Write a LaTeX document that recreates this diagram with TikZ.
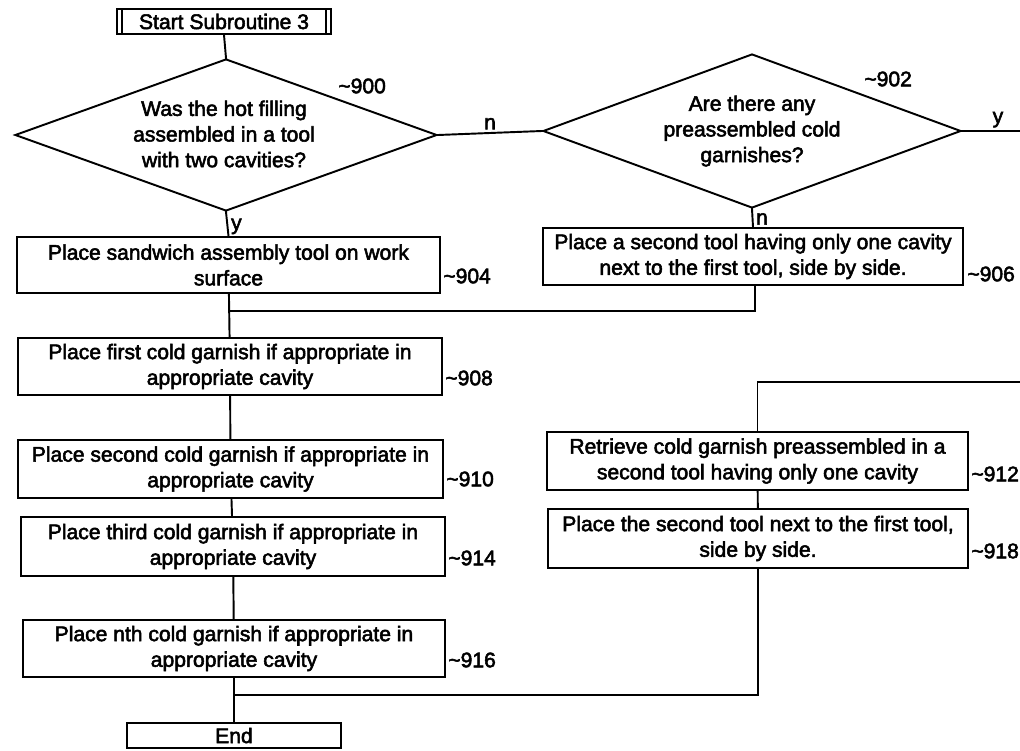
\documentclass[tikz,border=0pt]{standalone}
\usepackage{fontspec}
\setmainfont{Liberation Sans}[FakeBold=2.5]
\usetikzlibrary{shapes.geometric}

\newcommand\lbl{\fontsize{12}{14.6}\selectfont}

\tikzset{
  flow/.style={line width=1.1pt, line cap=rect},
  stepbox/.style 2 args={draw, line width=1.1pt, rectangle, inner sep=0pt,
    minimum width=#1*0.02cm, minimum height=#2*0.02cm, align=center, font=\lbl},
  decision/.style 2 args={draw, line width=1.1pt, diamond, inner sep=0pt,
    minimum width=#1*0.02cm, minimum height=#2*0.02cm},
  qtext/.style={align=center, font=\lbl, inner sep=0pt},
  ref/.style={anchor=west, font=\lbl, inner sep=0pt},
  branch/.style={font=\lbl, inner sep=1.5pt}
}

\begin{document}
\begin{tikzpicture}[x=0.02cm, y=-0.02cm]
\useasboundingbox (0,0) rectangle (1020,750);

% start terminal with double side bars
\node[stepbox={214}{25}] (s) at (224,21.5) {Start Subroutine 3};
\draw[line width=1.1pt] ([xshift=0.12cm]s.north west) -- ([xshift=0.12cm]s.south west);
\draw[line width=1.1pt] ([xshift=-0.12cm]s.north east) -- ([xshift=-0.12cm]s.south east);

% decisions
\node[decision={422}{152}] (d900) at (226,135) {};
\node[qtext] (q900) at (224,134) {Was the hot filling\\assembled in a tool\\with two cavities?};
\node[ref] (r900) at (338,86) {\textasciitilde900};

\node[decision={418}{154}] (d902) at (752,131) {};
\node[qtext] (q902) at (752,131) {Are there any\\preassembled cold\\garnishes?};
\node[ref] (r902) at (864,79) {\textasciitilde902};

% left column
\node[stepbox={423}{56}] (b904) at (228.5,265) {Place sandwich assembly tool on work\\surface};
\node[ref] (r904) at (443,276) {\textasciitilde904};
\node[stepbox={424}{57}] (b908) at (230,366.5) {Place first cold garnish if appropriate in\\appropriate cavity};
\node[ref] (r908) at (445,378) {\textasciitilde908};
\node[stepbox={425}{58}] (b910) at (230.5,469) {Place second cold garnish if appropriate in\\appropriate cavity};
\node[ref] (r910) at (446,479) {\textasciitilde910};
\node[stepbox={424}{59}] (b914) at (233,546.5) {Place third cold garnish if appropriate in\\appropriate cavity};
\node[ref] (r914) at (448,558) {\textasciitilde914};
\node[stepbox={422}{57}] (b916) at (234,648.5) {Place nth cold garnish if appropriate in\\appropriate cavity};
\node[ref] (r916) at (448,660) {\textasciitilde916};
\node[stepbox={214}{25}] (e) at (234,735.5) {End};

% right column
\node[stepbox={420}{57}] (b906) at (753,256.5) {Place a second tool having only one cavity\\next to the first tool, side by side.};
\node[ref] (r906) at (967,274) {\textasciitilde906};
\node[stepbox={421}{58}] (b912) at (757.5,461) {Retrieve cold garnish preassembled in a\\second tool having only one cavity};
\node[ref] (r912) at (971,474) {\textasciitilde912};
\node[stepbox={420}{59}] (b918) at (758,538.5) {Place the second tool next to the first tool,\\side by side.};
\node[ref] (r918) at (971,551) {\textasciitilde918};

% junctions and free ends at the sheet edge
\coordinate (j1) at (229,311);
\coordinate (j1r) at (755,311);
\coordinate (j2) at (234,695);
\coordinate (ey) at (1020,131);
\coordinate (eret) at (1020,382);

% connectors
\draw[flow] (s.south) -- (d900.north);
\draw[flow] (d900.east) -- node[branch, above] {n} (d902.west);
\draw[flow] (d900.south) -- node[branch, right, pos=0.6] {y} (b904.north);
\draw[flow] (d902.south) -- node[branch, right, pos=0.55] {n} (b906.north);
\draw[flow] (d902.east) -- node[branch, above, pos=0.62] {y} (ey);
\draw[flow] (b904) -- (b908);
\draw[flow] (b906.south -| j1r) -- (j1r) -- (j1);
\draw[flow] (b908) -- (b910);
\draw[flow] (b910) -- (b914);
\draw[flow] (b914) -- (b916);
\draw[flow] (b916.south) -- (e.north);
\draw[flow] (eret) -- (eret -| b912) -- (b912.north);
\draw[flow] (b912) -- (b918);
\draw[flow] (b918.south) -- (b918.south |- j2) -- (j2);
\end{tikzpicture}
\end{document}
